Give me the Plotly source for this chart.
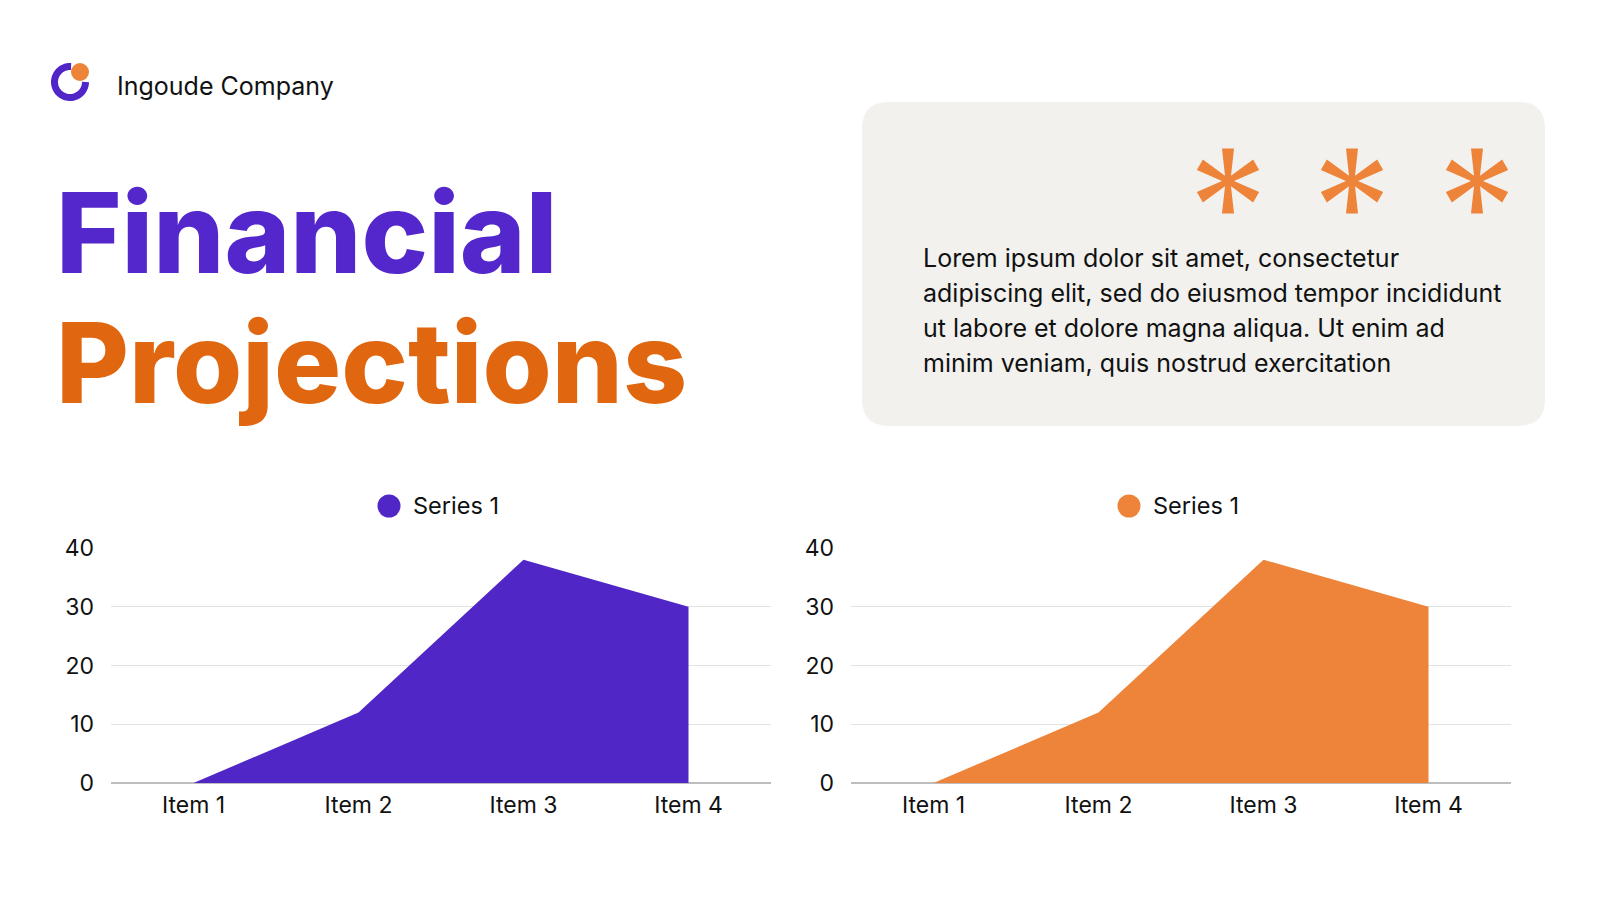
import numpy as np
import plotly.graph_objects as go

W, H = 1600, 900

# data
categories = ["Item 1", "Item 2", "Item 3", "Item 4"]
series_left = [0, 12, 38, 30]
series_right = [0, 12, 38, 30]
series_name = "Series 1"
y_ticks = [0, 10, 20, 30, 40]

company = "Ingoude Company"
title_1 = "Financial"
title_2 = "Projections"
body_lines = [
    "Lorem ipsum dolor sit amet, consectetur",
    "adipiscing elit, sed do eiusmod tempor incididunt",
    "ut labore et dolore magna aliqua. Ut enim ad",
    "minim veniam, quis nostrud exercitation",
]

PURPLE = "#5026C7"
ORANGE = "#EE843A"
TITLE_PURPLE = "#5327CB"
TITLE_ORANGE = "#E0670F"
BOX = "#F2F1EE"
FONT = "Inter"


def px(x):
    return x / W


def py(y):
    return 1 - y / H


fig = go.Figure()

fig.add_trace(go.Scatter(x=categories, y=series_left, name=series_name, mode="none",
                         fill="tozeroy", fillcolor=PURPLE, showlegend=False,
                         xaxis="x", yaxis="y"))
fig.add_trace(go.Scatter(x=categories, y=series_right, name=series_name, mode="none",
                         fill="tozeroy", fillcolor=ORANGE, showlegend=False,
                         xaxis="x2", yaxis="y2"))

# automargin off: the default template would push the margins and squeeze the page
axis_x = dict(type="category", range=[-0.5, 3.5], showgrid=False, showline=False,
              zeroline=False, ticks="", tickfont=dict(size=23, color="#111111"),
              ticklabelstandoff=6, fixedrange=True, automargin=False)
axis_y = dict(range=[0, 40], tickvals=y_ticks, showgrid=True, gridcolor="#E2E2E2",
              gridwidth=1, zeroline=True, zerolinecolor="#BDBDBD", zerolinewidth=2,
              showline=False, ticks="", tickfont=dict(size=23, color="#111111"),
              ticklabelstandoff=16, fixedrange=True, automargin=False)

shapes = []
annotations = []


def to_paper_path(p):
    out = []
    for tok in p.split(" "):
        cmd = ""
        if tok[0].isalpha():
            cmd, tok = tok[0], tok[1:]
        if tok == "":
            out.append(cmd)
            continue
        a, b = tok.split(",")
        out.append(f"{cmd}{px(float(a)):.5f},{py(float(b)):.5f}")
    return " ".join(out)


# rounded text box
x0, y0, x1, y1, r = 862, 102, 1545, 426, 27
box_path = (f"M{x0 + r},{y0} L{x1 - r},{y0} Q{x1},{y0} {x1},{y0 + r} "
            f"L{x1},{y1 - r} Q{x1},{y1} {x1 - r},{y1} L{x0 + r},{y1} "
            f"Q{x0},{y1} {x0},{y1 - r} L{x0},{y0 + r} Q{x0},{y0} {x0 + r},{y0} Z")
shapes.append(dict(type="path", xref="paper", yref="paper", path=to_paper_path(box_path),
                   fillcolor=BOX, line=dict(width=0), layer="below"))

# logo ring (pixel-sized around anchor)
theta = np.radians(np.linspace(86, 360, 60))
rad = 15.5
ring = "M" + " L".join(f"{rad * np.cos(t):.2f},{rad * np.sin(t):.2f}" for t in theta)
shapes.append(dict(type="path", xref="paper", yref="paper", xsizemode="pixel",
                   ysizemode="pixel", xanchor=px(70), yanchor=py(82), path=ring,
                   line=dict(color=PURPLE, width=7), fillcolor="rgba(0,0,0,0)"))
shapes.append(dict(type="circle", xref="paper", yref="paper", xsizemode="pixel",
                   ysizemode="pixel", xanchor=px(80), yanchor=py(72),
                   x0=-9, x1=9, y0=-9, y1=9, fillcolor=ORANGE, line=dict(width=0)))


# asterisks drawn as one star polygon (no overlapping sub-paths)
def asterisk_path(length=32.5, w_end=6, r_in=6):
    pts = []
    for ang in [90, 150, 210, 270, 330, 30]:
        a = np.radians(ang)
        ux, uy = np.cos(a), np.sin(a)
        nx, ny = -uy, ux
        pts.append((ux * length - nx * w_end, uy * length - ny * w_end))
        pts.append((ux * length + nx * w_end, uy * length + ny * w_end))
        b = np.radians(ang + 30)
        pts.append((np.cos(b) * r_in, np.sin(b) * r_in))
    return "M" + " L".join(f"{x:.2f},{y:.2f}" for x, y in pts) + " Z"


for cx in [1228, 1352, 1477]:
    shapes.append(dict(type="path", xref="paper", yref="paper", xsizemode="pixel",
                       ysizemode="pixel", xanchor=px(cx), yanchor=py(181),
                       path=asterisk_path(), fillcolor=ORANGE, line=dict(width=0)))

# header texts
annotations.append(dict(text=company, x=px(115), y=py(86), xref="paper", yref="paper",
                        xanchor="left", yanchor="middle", showarrow=False,
                        font=dict(family=FONT, size=25, color="#111111")))
annotations.append(dict(text=title_1, x=px(54), y=py(232), xref="paper", yref="paper",
                        xanchor="left", yanchor="middle", showarrow=False,
                        font=dict(family=FONT, size=112, color=TITLE_PURPLE, weight=800)))
annotations.append(dict(text=title_2, x=px(54), y=py(362), xref="paper", yref="paper",
                        xanchor="left", yanchor="middle", showarrow=False,
                        font=dict(family=FONT, size=112, color=TITLE_ORANGE, weight=800)))
for i, line in enumerate(body_lines):
    annotations.append(dict(text=line, x=px(921), y=py(258 + i * 35), xref="paper",
                            yref="paper", xanchor="left", yanchor="middle", showarrow=False,
                            font=dict(family=FONT, size=25, color="#111111")))

# legends (circle + label) centred over each plot
for cx, col in [(389, PURPLE), (1129, ORANGE)]:
    shapes.append(dict(type="circle", xref="paper", yref="paper", xsizemode="pixel",
                       ysizemode="pixel", xanchor=px(cx), yanchor=py(506),
                       x0=-11.5, x1=11.5, y0=-11.5, y1=11.5, fillcolor=col,
                       line=dict(width=0)))
    annotations.append(dict(text=series_name, x=px(cx + 22), y=py(506), xref="paper",
                            yref="paper", xanchor="left", yanchor="middle", showarrow=False,
                            font=dict(family=FONT, size=23.5, color="#111111")))

fig.update_layout(
    width=W, height=H,
    margin=dict(l=0, r=0, t=0, b=0, autoexpand=False),
    paper_bgcolor="white", plot_bgcolor="white",
    font=dict(family=FONT, color="#111111"),
    showlegend=False,
    xaxis=dict(axis_x, domain=[px(111), px(771)], anchor="y"),
    yaxis=dict(axis_y, domain=[1 - 783 / H, 1 - 548 / H], anchor="x"),
    xaxis2=dict(axis_x, domain=[px(851), px(1511)], anchor="y2"),
    yaxis2=dict(axis_y, domain=[1 - 783 / H, 1 - 548 / H], anchor="x2"),
    shapes=shapes,
    annotations=annotations,
)

fig.write_html("out.html", config={"displayModeBar": False},
               post_script="document.body.style.margin='0';document.body.style.overflow='hidden';")
